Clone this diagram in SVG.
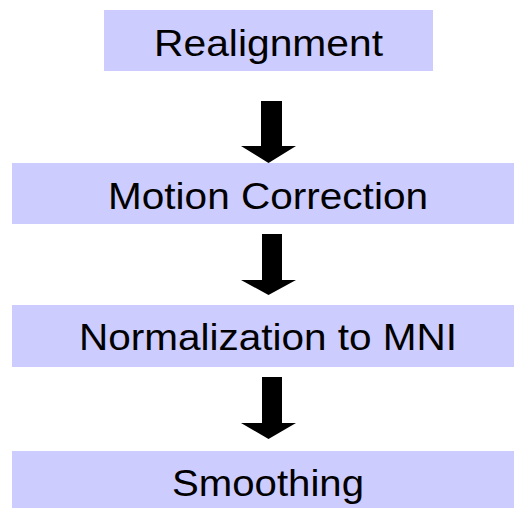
<svg xmlns="http://www.w3.org/2000/svg" width="514" height="508" viewBox="0 0 514 508">
  <style>
    .box { fill: #ccccff; }
    .label { font-family: "Liberation Sans", Arial, sans-serif; font-size: 36px; fill: #000; text-anchor: middle; }
    .arrow { fill: #000; }
  </style>
  <rect width="514" height="508" fill="#ffffff"/>
  <g id="realignment">
    <rect class="box" x="104" y="10" width="329" height="61"/>
    <text class="label" x="268.5" y="56" textLength="229" lengthAdjust="spacingAndGlyphs">Realignment</text>
  </g>
  <g id="motion-correction">
    <rect class="box" x="12" y="163" width="502" height="61"/>
    <text class="label" x="268" y="209" textLength="320" lengthAdjust="spacingAndGlyphs">Motion Correction</text>
  </g>
  <g id="normalization">
    <rect class="box" x="12" y="305" width="502" height="62"/>
    <text class="label" x="268" y="350" textLength="378" lengthAdjust="spacingAndGlyphs">Normalization to MNI</text>
  </g>
  <g id="smoothing">
    <rect class="box" x="12" y="451" width="502" height="57"/>
    <text class="label" x="268" y="496" textLength="192" lengthAdjust="spacingAndGlyphs">Smoothing</text>
  </g>
  <g id="connectors">
    <path class="arrow" d="M261 101 H282 V146 H296 L268.5 163 L241 146 H261 Z"/>
    <path class="arrow" d="M262 234 H282 V280 H296 L268.5 295 L241 280 H262 Z"/>
    <path class="arrow" d="M262 377 H282 V423 H296 L268.5 439 L241 423 H262 Z"/>
  </g>
</svg>
